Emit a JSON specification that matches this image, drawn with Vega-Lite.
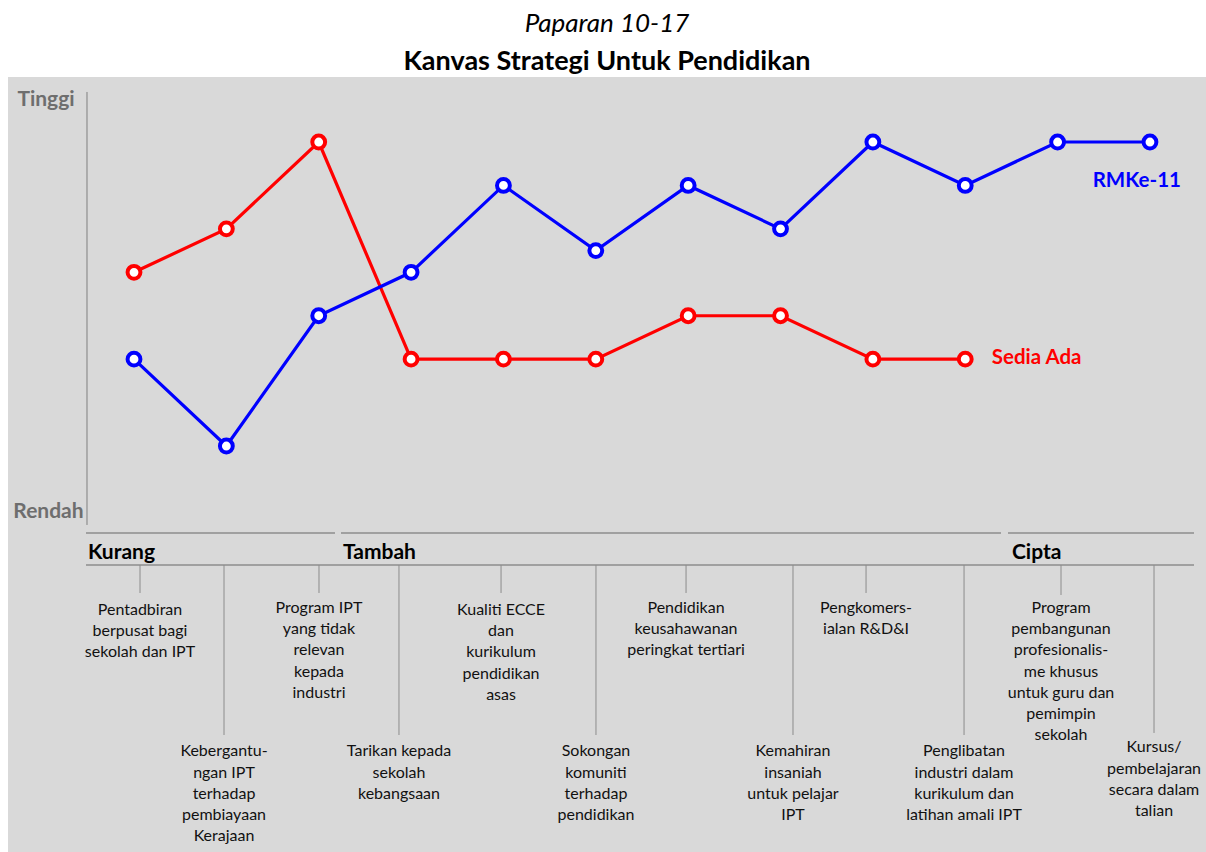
{
  "$schema": "https://vega.github.io/schema/vega-lite/v6.json",
  "width": 1198,
  "height": 775,
  "autosize": {"type": "none"},
  "padding": {"left": 8, "top": 77, "right": 0, "bottom": 0},
  "background": "#ffffff",
  "title": {
    "text": "Paparan 10-17",
    "subtitle": "Kanvas Strategi Untuk Pendidikan",
    "font": "Lato",
    "fontSize": 26,
    "fontStyle": "italic",
    "fontWeight": "normal",
    "color": "#000000",
    "subtitleFont": "Lato",
    "subtitleFontSize": 27,
    "subtitleFontWeight": "bold",
    "subtitleColor": "#000000",
    "subtitlePadding": 12,
    "offset": 2,
    "anchor": "middle"
  },
  "config": {
    "view": {"stroke": null, "fill": "#d9d9d9"},
    "font": "Lato"
  },
  "datasets": {
    "series": [
      {"series": "Sedia Ada", "factor": 1, "level": 6},
      {"series": "Sedia Ada", "factor": 2, "level": 7},
      {"series": "Sedia Ada", "factor": 3, "level": 9},
      {"series": "Sedia Ada", "factor": 4, "level": 4},
      {"series": "Sedia Ada", "factor": 5, "level": 4},
      {"series": "Sedia Ada", "factor": 6, "level": 4},
      {"series": "Sedia Ada", "factor": 7, "level": 5},
      {"series": "Sedia Ada", "factor": 8, "level": 5},
      {"series": "Sedia Ada", "factor": 9, "level": 4},
      {"series": "Sedia Ada", "factor": 10, "level": 4},
      {"series": "RMKe-11", "factor": 1, "level": 4},
      {"series": "RMKe-11", "factor": 2, "level": 2},
      {"series": "RMKe-11", "factor": 3, "level": 5},
      {"series": "RMKe-11", "factor": 4, "level": 6},
      {"series": "RMKe-11", "factor": 5, "level": 8},
      {"series": "RMKe-11", "factor": 6, "level": 6.5},
      {"series": "RMKe-11", "factor": 7, "level": 8},
      {"series": "RMKe-11", "factor": 8, "level": 7},
      {"series": "RMKe-11", "factor": 9, "level": 9},
      {"series": "RMKe-11", "factor": 10, "level": 8},
      {"series": "RMKe-11", "factor": 11, "level": 9},
      {"series": "RMKe-11", "factor": 12, "level": 9}
    ],
    "seriesNames": [
      {"series": "RMKe-11", "factor": 11.38, "level": 7.958},
      {"series": "Sedia Ada", "factor": 10.287, "level": 3.889}
    ],
    "ends": [
      {"name": "Tinggi", "factor": 0.047, "level": 9.83},
      {"name": "Rendah", "factor": 0.074, "level": 0.336}
    ],
    "axisline": [
      {"factor": 0.491, "level": 10.152, "level2": 0.182}
    ],
    "bands": [
      {"factor": 0.48, "factor2": 3.176, "level": 0},
      {"factor": 3.241, "factor2": 10.387, "level": 0},
      {"factor": 10.463, "factor2": 12.477, "level": 0},
      {"factor": 0.48, "factor2": 12.477, "level": -0.74}
    ],
    "headings": [
      {"name": "Kurang", "factor": 0.502, "level": -0.608},
      {"name": "Tambah", "factor": 3.263, "level": -0.608},
      {"name": "Cipta", "factor": 10.506, "level": -0.608}
    ],
    "ticks": [
      {"factor": 1.065, "level": -0.74, "level2": -1.384},
      {"factor": 1.9745, "level": -0.74, "level2": -4.654},
      {"factor": 3.003, "level": -0.74, "level2": -1.384},
      {"factor": 3.869, "level": -0.74, "level2": -4.654},
      {"factor": 4.974, "level": -0.74, "level2": -1.384},
      {"factor": 6.002, "level": -0.74, "level2": -4.654},
      {"factor": 6.977, "level": -0.74, "level2": -1.384},
      {"factor": 8.135, "level": -0.74, "level2": -4.654},
      {"factor": 8.926, "level": -0.74, "level2": -1.384},
      {"factor": 9.987, "level": -0.74, "level2": -4.654},
      {"factor": 11.037, "level": -0.74, "level2": -1.43},
      {"factor": 12.044, "level": -0.74, "level2": -4.607}
    ],
    "labels": [
      {"factor": 1.065, "level": -1.89, "t": "Pentadbiran\nberpusat bagi\nsekolah dan IPT"},
      {"factor": 1.9745, "level": -5.149, "t": "Kebergantu-\nngan IPT\nterhadap\npembiayaan\nKerajaan"},
      {"factor": 3.003, "level": -1.844, "t": "Program IPT\nyang tidak\nrelevan\nkepada\nindustri"},
      {"factor": 3.869, "level": -5.149, "t": "Tarikan kepada\nsekolah\nkebangsaan"},
      {"factor": 4.974, "level": -1.89, "t": "Kualiti ECCE\ndan\nkurikulum\npendidikan\nasas"},
      {"factor": 6.002, "level": -5.149, "t": "Sokongan\nkomuniti\nterhadap\npendidikan"},
      {"factor": 6.977, "level": -1.844, "t": "Pendidikan\nkeusahawanan\nperingkat tertiari"},
      {"factor": 8.135, "level": -5.149, "t": "Kemahiran\ninsaniah\nuntuk pelajar\nIPT"},
      {"factor": 8.926, "level": -1.844, "t": "Pengkomers-\nialan R&D&I"},
      {"factor": 9.987, "level": -5.149, "t": "Penglibatan\nindustri dalam\nkurikulum  dan\nlatihan amali IPT"},
      {"factor": 11.037, "level": -1.844, "t": "Program\npembangunan\nprofesionalis-\nme khusus\nuntuk guru dan\npemimpin\nsekolah"},
      {"factor": 12.044, "level": -5.056, "t": "Kursus/\npembelajaran\nsecara dalam\ntalian"}
    ]
  },
  "encoding": {
    "x": {"field": "factor", "type": "quantitative", "axis": null,
          "scale": {"domain": [-0.3642, 12.6068], "nice": false, "zero": false}},
    "y": {"field": "level", "type": "quantitative", "axis": null,
          "scale": {"domain": [-7.348, 10.497], "nice": false, "zero": false}}
  },
  "layer": [
    {
      "data": {"name": "axisline"},
      "mark": {"type": "rule", "color": "#808080", "strokeWidth": 1},
      "encoding": {"y2": {"field": "level2"}}
    },
    {
      "data": {"name": "bands"},
      "mark": {"type": "rule", "color": "#8c8c8c", "strokeWidth": 1.5},
      "encoding": {"x2": {"field": "factor2"}}
    },
    {
      "data": {"name": "ticks"},
      "mark": {"type": "rule", "color": "#8c8c8c", "strokeWidth": 1},
      "encoding": {"y2": {"field": "level2"}}
    },
    {
      "data": {"name": "headings"},
      "mark": {"type": "text", "align": "left", "baseline": "alphabetic", "fontSize": 21, "fontWeight": "bold", "color": "#000000"},
      "encoding": {"text": {"field": "name"}}
    },
    {
      "data": {"name": "labels"},
      "mark": {"type": "text", "align": "center", "baseline": "alphabetic", "fontSize": 16, "lineBreak": "\n", "lineHeight": 21.2, "color": "#111111"},
      "encoding": {"text": {"field": "t"}}
    },
    {
      "data": {"name": "ends"},
      "mark": {"type": "text", "align": "center", "baseline": "alphabetic", "fontSize": 21, "fontWeight": "bold", "color": "#6e6e6e"},
      "encoding": {"text": {"field": "name"}}
    },
    {
      "data": {"name": "series"},
      "mark": {"type": "line", "strokeWidth": 3.2},
      "encoding": {
        "color": {"field": "series", "type": "nominal", "legend": null,
                  "scale": {"domain": ["RMKe-11", "Sedia Ada"], "range": ["#0000ff", "#ff0000"]}},
        "order": {"field": "factor"},
        "detail": {"field": "series"}
      }
    },
    {
      "data": {"name": "series"},
      "mark": {"type": "point", "shape": "circle", "filled": false, "fill": "#ffffff", "fillOpacity": 1, "opacity": 1, "size": 165, "strokeWidth": 4},
      "encoding": {
        "stroke": {"field": "series", "type": "nominal", "legend": null,
                  "scale": {"domain": ["RMKe-11", "Sedia Ada"], "range": ["#0000ff", "#ff0000"]}}
      }
    },
    {
      "data": {"name": "seriesNames"},
      "mark": {"type": "text", "align": "left", "baseline": "alphabetic", "fontSize": 20.5, "fontWeight": "bold"},
      "encoding": {
        "text": {"field": "series"},
        "color": {"field": "series", "type": "nominal", "legend": null,
                  "scale": {"domain": ["RMKe-11", "Sedia Ada"], "range": ["#0000ff", "#ff0000"]}}
      }
    }
  ]
}
